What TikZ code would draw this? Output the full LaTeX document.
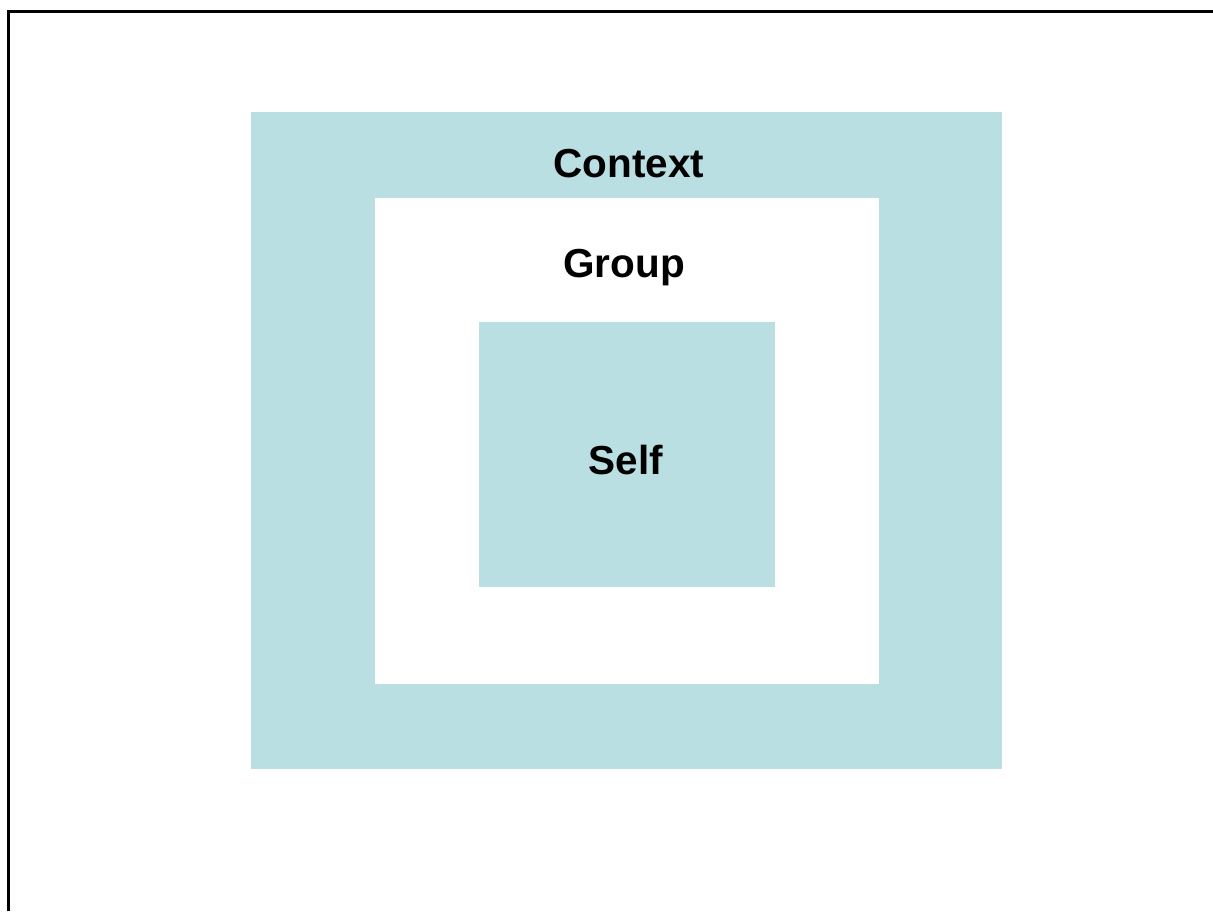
\documentclass[tikz,border=0pt]{standalone}
\usepackage{fontspec}
\setmainfont{Liberation Sans}
\definecolor{ctxblue}{HTML}{BADFE2}
\begin{document}
\begin{tikzpicture}[x=1pt,y=-1pt,
  band/.style={fill=ctxblue,draw=none},
  hole/.style={fill=white,draw=none},
  lbl/.style={font=\fontsize{40.5}{41}\selectfont\bfseries,text=black,inner sep=0pt}]
\useasboundingbox (0,0) rectangle (1213,911);
\fill[white] (0,0) rectangle (1213,911);
\draw[line width=3.6pt] (8.5,911) -- (8.5,11.3) -- (1213,11.3);
\fill[band] (251,112) rectangle (1002,769);
\fill[hole] (375,198) rectangle (879,684);
\fill[band] (479,322) rectangle (775,587);
\node[lbl] (context) at (629,164) {Context};
\node[lbl] (group) at (624,268) {Group};
\node[lbl] (self) at (626,460) {Self};
\end{tikzpicture}
\end{document}
